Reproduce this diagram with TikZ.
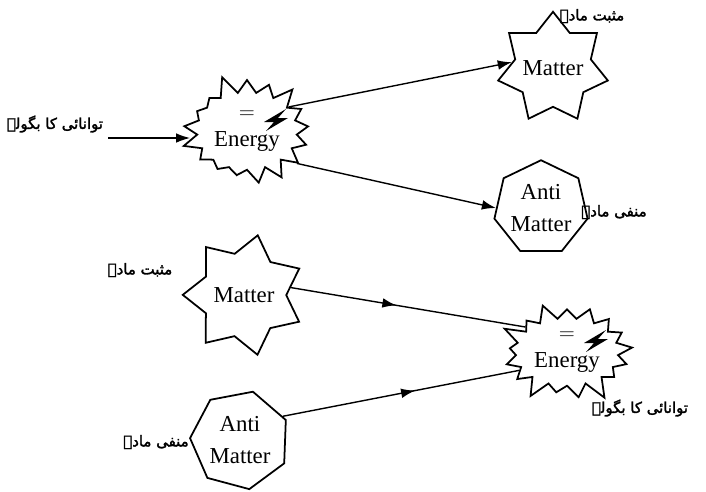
\documentclass[tikz,border=0pt]{standalone}
\usepackage{fontspec}
\setmainfont{Liberation Serif}
\newfontfamily\urdufont[Script=Arabic, FakeBold=2]{DejaVu Sans}
\TeXXeTstate=1
\usetikzlibrary{shapes,arrows.meta}
\usetikzlibrary{decorations.markings}
\tikzstyle{burst} = [draw, line width=1pt, starburst, starburst points=17, starburst point height=0.4cm, inner sep=0pt, align=center, font=\fontsize{13}{16}\selectfont]
\tikzstyle{sevenstar} = [draw, line width=1pt, star, star points=7, star point ratio=1.45, minimum size=2.2cm, inner sep=-3pt, font=\fontsize{13}{16}\selectfont]
\tikzstyle{hepta} = [draw, line width=1pt, regular polygon, regular polygon sides=7, minimum size=1.85cm, inner sep=0pt, align=center, font=\fontsize{13}{18}\selectfont]
\tikzstyle{urdu} = [font=\urdufont\fontsize{8.5}{10}\selectfont]
\tikzstyle{line} = [draw, line width=0.8pt, -{Latex[length=8pt,width=5.5pt]}]
\tikzset{midarrow/.style={draw, line width=0.8pt, postaction={decorate}, decoration={markings, mark=at position #1 with {\arrow{Latex[length=8pt,width=5.5pt]}}}}}

\begin{document}
\begin{tikzpicture}[x=0.02cm, y=-0.02cm]

		\useasboundingbox (0,0) rectangle (706,491);

		% upper half
		\node[burst, minimum width=2.8cm, minimum height=2.35cm, random starburst=5] (e1) at (247,131) {$=$\\Energy};
		\node[sevenstar, minimum size=2.25cm] (m1) at (553,68) {Matter};
		\node[hepta] (a1) at (541,208) {Anti\\Matter};
		\coordinate (in1) at (108,138);

		\node[urdu] (u1) at (55,124) {\beginR توانائی کا بگولہ\endR};
		\node[urdu] (u2) at (592,16) {\beginR مثبت مادہ\endR};
		\node[urdu] (u3) at (614,212) {\beginR منفی مادہ\endR};

		\path[line] (in1) -- (e1.west |- in1);
		\path[line] (e1.30) -- (m1.172);
		\path[line] (e1.-33) -- (a1.180);

		% lower half
		\node[sevenstar, minimum size=2.45cm, shape border rotate=-13] (m2) at (244,295) {Matter};
		\node[hepta, minimum size=2cm, shape border rotate=-15] (a2) at (240,440) {Anti\\Matter};
		\node[burst, minimum width=2.85cm, minimum height=2.15cm, random starburst=9] (e2) at (567,352) {$=$\\Energy};

		\node[urdu] (u4) at (140,270) {\beginR مثبت مادہ\endR};
		\node[urdu] (u5) at (156,442) {\beginR منفی مادہ\endR};
		\node[urdu] (u6) at (640,408) {\beginR توانائی کا بگولہ\endR};

		\path[midarrow=0.45] (m2.9) -- (e2.149);
		\path[midarrow=0.56] (a2.29) -- (e2.201);

		% lightning bolts
		\foreach \n in {e1,e2}
			\fill ([shift={(39,-22)}]\n.center) -- ++(-22,13) -- ++(10,0) -- ++(-8,9) -- ++(22,-13) -- ++(-10,0) -- cycle;

\end{tikzpicture}
\end{document}
